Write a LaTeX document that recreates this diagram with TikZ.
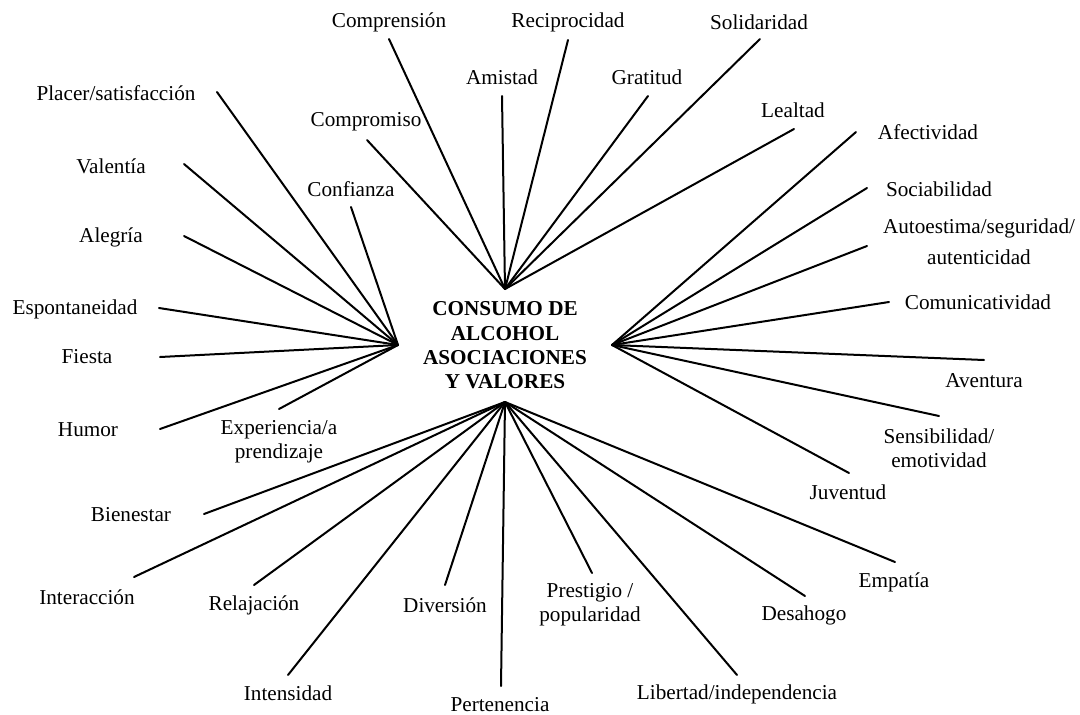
\documentclass[tikz,border=0pt]{standalone}
\usepackage{fontspec}
\setmainfont{Liberation Serif}
\begin{document}
\begin{tikzpicture}[x=1pt,y=-1pt,
  lbl/.style={inner sep=0pt, align=center, font=\fontsize{21.2}{24.3}\selectfont},
  title/.style={inner sep=0pt, align=center, font=\fontsize{21.2}{24.3}\selectfont\bfseries},
  ray/.style={line width=2pt, line cap=round}]
\useasboundingbox (0,0) rectangle (1080,715);

% central title and the four hubs around it
\node[title] (centre) at (505,345.5) {CONSUMO DE\\ALCOHOL\\ASOCIACIONES\\Y VALORES};
\coordinate (hubN) at (505,289);
\coordinate (hubW) at (398,345);
\coordinate (hubE) at (612,345);
\coordinate (hubS) at (505,402);

% upper group
\node[lbl] (comprension)  at (389,22)  {Comprensión};
\node[lbl] (reciprocidad) at (568,22)  {Reciprocidad};
\node[lbl] (solidaridad)  at (759,22)  {Solidaridad};
\node[lbl] (amistad)      at (502,77)  {Amistad};
\node[lbl] (gratitud)     at (647,77)  {Gratitud};
\node[lbl] (lealtad)      at (793,110) {Lealtad};
\node[lbl] (compromiso)   at (366,122) {Compromiso};
\coordinate (eComprension)  at (389,39);
\coordinate (eReciprocidad) at (568,40);
\coordinate (eSolidaridad)  at (760,39);
\coordinate (eAmistad)      at (502,96);
\coordinate (eGratitud)     at (648,96);
\coordinate (eLealtad)      at (794,129);
\coordinate (eCompromiso)   at (367,140);
\foreach \e in {eComprension,eReciprocidad,eSolidaridad,eAmistad,eGratitud,eLealtad,eCompromiso}
  \draw[ray] (hubN) -- (\e);

% left group
\node[lbl] (placer)        at (116,93)  {Placer/satisfacción};
\node[lbl] (valentia)      at (111,166) {Valentía};
\node[lbl] (confianza)     at (351,189) {Confianza};
\node[lbl] (alegria)       at (111,237) {Alegría};
\node[lbl] (espontaneidad) at (75,309)  {Espontaneidad};
\node[lbl] (fiesta)        at (87,357)  {Fiesta};
\node[lbl] (humor)         at (88,430)  {Humor};
\node[lbl] (experiencia)   at (279,442) {Experiencia/a\\prendizaje};
\coordinate (ePlacer)        at (217,92);
\coordinate (eValentia)      at (184,164);
\coordinate (eConfianza)     at (351,207);
\coordinate (eAlegria)       at (184,236);
\coordinate (eEspontaneidad) at (159,308);
\coordinate (eFiesta)        at (160,357);
\coordinate (eHumor)         at (160,429);
\coordinate (eExperiencia)   at (279,409);
\foreach \e in {ePlacer,eValentia,eConfianza,eAlegria,eEspontaneidad,eFiesta,eHumor,eExperiencia}
  \draw[ray] (hubW) -- (\e);

% right group
\node[lbl] (afectividad)     at (928,132)   {Afectividad};
\node[lbl] (sociabilidad)    at (939,189)   {Sociabilidad};
\node[lbl] (autoestima)      at (979,241.5) {Autoestima/seguridad/\\[6.7pt]autenticidad};
\node[lbl] (comunicatividad) at (978,302)   {Comunicatividad};
\node[lbl] (aventura)        at (984,381)   {Aventura};
\node[lbl] (sensibilidad)    at (939,448.5) {Sensibilidad/\\emotividad};
\node[lbl] (juventud)        at (848,492)   {Juventud};
\coordinate (eAfectividad)     at (856,132);
\coordinate (eSociabilidad)    at (867,188);
\coordinate (eAutoestima)      at (867,246);
\coordinate (eComunicatividad) at (889,302);
\coordinate (eAventura)        at (984,360);
\coordinate (eSensibilidad)    at (939,416);
\coordinate (eJuventud)        at (849,473);
\foreach \e in {eAfectividad,eSociabilidad,eAutoestima,eComunicatividad,eAventura,eSensibilidad,eJuventud}
  \draw[ray] (hubE) -- (\e);

% lower group
\node[lbl] (bienestar)   at (131,515) {Bienestar};
\node[lbl] (interaccion) at (87,597)  {Interacción};
\node[lbl] (relajacion)  at (254,605) {Relajación};
\node[lbl] (intensidad)  at (288,693) {Intensidad};
\node[lbl] (diversion)   at (445,605) {Diversión};
\node[lbl] (pertenencia) at (500,705) {Pertenencia};
\node[lbl] (prestigio)   at (590,605) {Prestigio /\\popularidad};
\node[lbl] (libertad)    at (737,694) {Libertad/independencia};
\node[lbl] (desahogo)    at (804,615) {Desahogo};
\node[lbl] (empatia)     at (894,582) {Empatía};
\coordinate (eBienestar)   at (204,514);
\coordinate (eInteraccion) at (134,577);
\coordinate (eRelajacion)  at (254,585);
\coordinate (eIntensidad)  at (288,675);
\coordinate (eDiversion)   at (445,585);
\coordinate (ePertenencia) at (501,686);
\coordinate (ePrestigio)   at (592,573);
\coordinate (eLibertad)    at (737,675);
\coordinate (eDesahogo)    at (805,596);
\coordinate (eEmpatia)     at (895,562);
\foreach \e in {eBienestar,eInteraccion,eRelajacion,eIntensidad,eDiversion,ePertenencia,ePrestigio,eLibertad,eDesahogo,eEmpatia}
  \draw[ray] (hubS) -- (\e);
\end{tikzpicture}
\end{document}
